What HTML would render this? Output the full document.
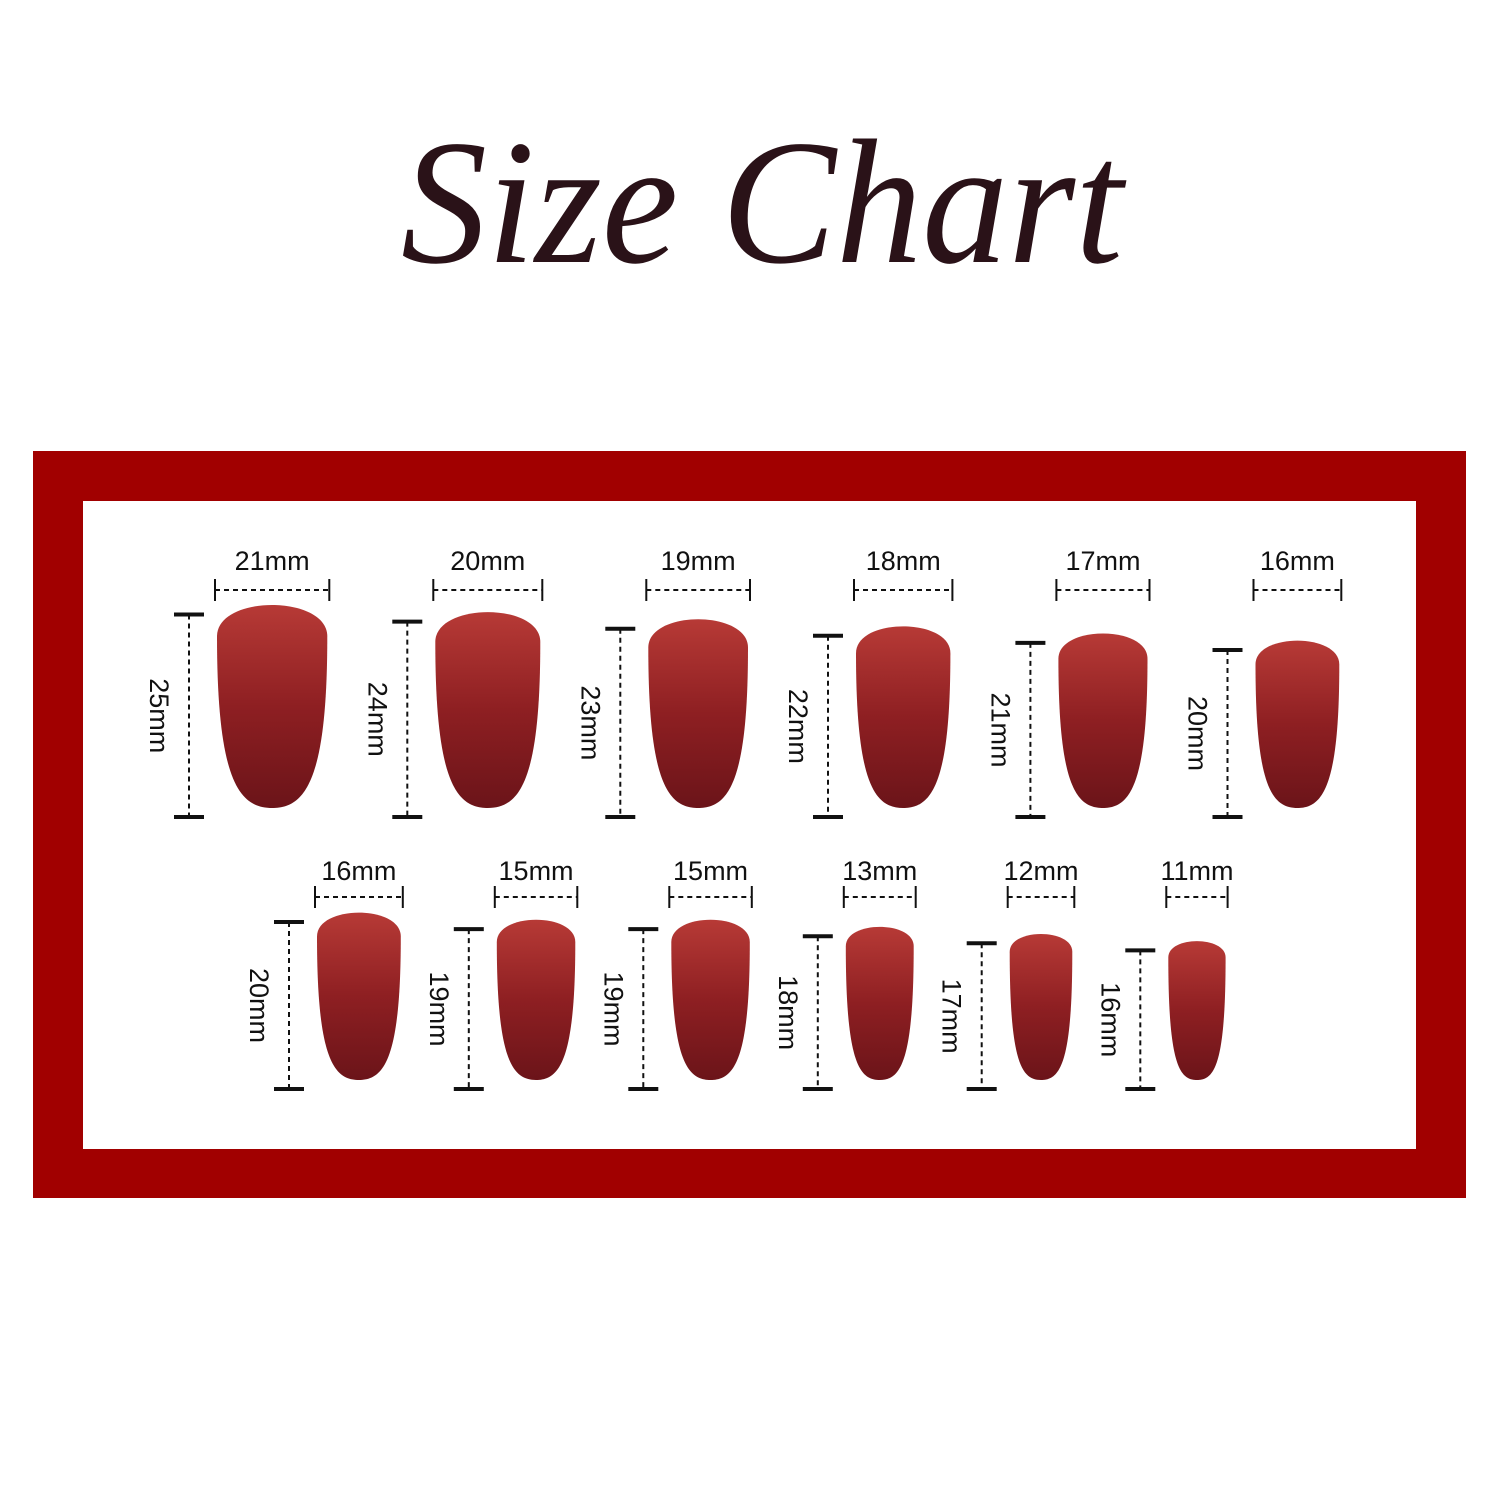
<!DOCTYPE html>
<html><head><meta charset="utf-8"><style>
html,body{margin:0;padding:0;background:#fff;}
svg{display:block;}
</style></head><body>
<svg id="c" width="1500" height="1500" viewBox="0 0 1500 1500" xmlns="http://www.w3.org/2000/svg">
<defs>
<linearGradient id="ng" x1="0" y1="0" x2="0" y2="1">
<stop offset="0" stop-color="#b73a36"/><stop offset="0.5" stop-color="#8e1f22"/><stop offset="1" stop-color="#6b1419"/>
</linearGradient>
</defs>
<rect width="1500" height="1500" fill="#fff"/>
<text x="762" y="262" text-anchor="middle" font-family="Liberation Serif, serif" font-style="italic" font-size="178" fill="#2a1218" textLength="722" lengthAdjust="spacingAndGlyphs">Size Chart</text>
<rect x="33" y="451" width="1433" height="747" fill="#a10000"/>
<rect x="83" y="501" width="1333" height="648" fill="#fff"/>
<g id="nails"></g>
</svg>
<script>
const row1Widths = [21, 20, 19, 18, 17, 16];
const row1Heights = [25, 24, 23, 22, 21, 20];
const row2Widths = [16, 15, 15, 13, 12, 11];
const row2Heights = [20, 19, 19, 18, 17, 16];

const NS = 'http://www.w3.org/2000/svg';
const g = document.getElementById('nails');
function wPx(mm){ return 5.3*mm - 1; }
function hPx(mm){ return 7.1*mm + 25; }
function mk(tag, attrs){ const e=document.createElementNS(NS,tag); for(const k in attrs) e.setAttribute(k,attrs[k]); return e; }

function drawRow(widths, heights, startX, bottom, gap, titleY, bracketY){
  let x = startX;
  for(let i=0;i<widths.length;i++){
    const w=wPx(widths[i]), h=hPx(heights[i]);
    const lineX = x;
    const nx = lineX + 28;
    const top = bottom - h;
    const grp = mk('g',{});
    
    
    const t0 = top - 0.06*w;
    const d = `M ${nx} ${t0+0.34*w}
      C ${nx} ${t0-0.04*w}, ${nx+w} ${t0-0.04*w}, ${nx+w} ${t0+0.34*w}
      C ${nx+w} ${bottom-0.25*w}, ${nx+w*0.8} ${bottom}, ${nx+w*0.5} ${bottom}
      C ${nx+w*0.2} ${bottom}, ${nx} ${bottom-0.25*w}, ${nx} ${t0+0.34*w} Z`;
    const nail = mk('path',{d:d, fill:'url(#ng)'});
    
    
    grp.appendChild(nail);
    const ht = top+9, hb = bottom+9;
    const vl = mk('line',{x1:lineX,y1:ht,x2:lineX,y2:hb,stroke:'#111','stroke-width':2,'stroke-dasharray':'5 4'});
    
    
    grp.appendChild(vl);
    [ht,hb].forEach(y=>{ const t=mk('line',{x1:lineX-15,y1:y,x2:lineX+15,y2:y,stroke:'#111','stroke-width':4});
      
      
      grp.appendChild(t); });
    const lx = lineX-30, ly=(ht+hb)/2;
    const ht2 = mk('text',{x:lx,y:ly,'text-anchor':'middle','dominant-baseline':'central','font-family':'Liberation Sans, sans-serif','font-size':27,fill:'#111',transform:`rotate(90 ${lx} ${ly})`});
    ht2.textContent = heights[i]+'mm';
    
    
    grp.appendChild(ht2);
    const bl=nx-2, br=nx+w+2;
    const hl = mk('line',{x1:bl,y1:bracketY,x2:br,y2:bracketY,stroke:'#111','stroke-width':2,'stroke-dasharray':'5 4'});
    
    
    grp.appendChild(hl);
    [bl,br].forEach(xx=>{ const t=mk('line',{x1:xx,y1:bracketY-11,x2:xx,y2:bracketY+11,stroke:'#111','stroke-width':2});
      
      
      grp.appendChild(t); });
    const wt = mk('text',{x:(bl+br)/2,y:titleY,'text-anchor':'middle','font-family':'Liberation Sans, sans-serif','font-size':27,fill:'#111'});
    wt.textContent = widths[i]+'mm';
    
    
    grp.appendChild(wt);
    g.appendChild(grp);
    x = nx + w + gap;
  }
}
drawRow(row1Widths,row1Heights,189,808,80,570,590);
drawRow(row2Widths,row2Heights,289,1080,68,880,897);
</script>
</body></html>
